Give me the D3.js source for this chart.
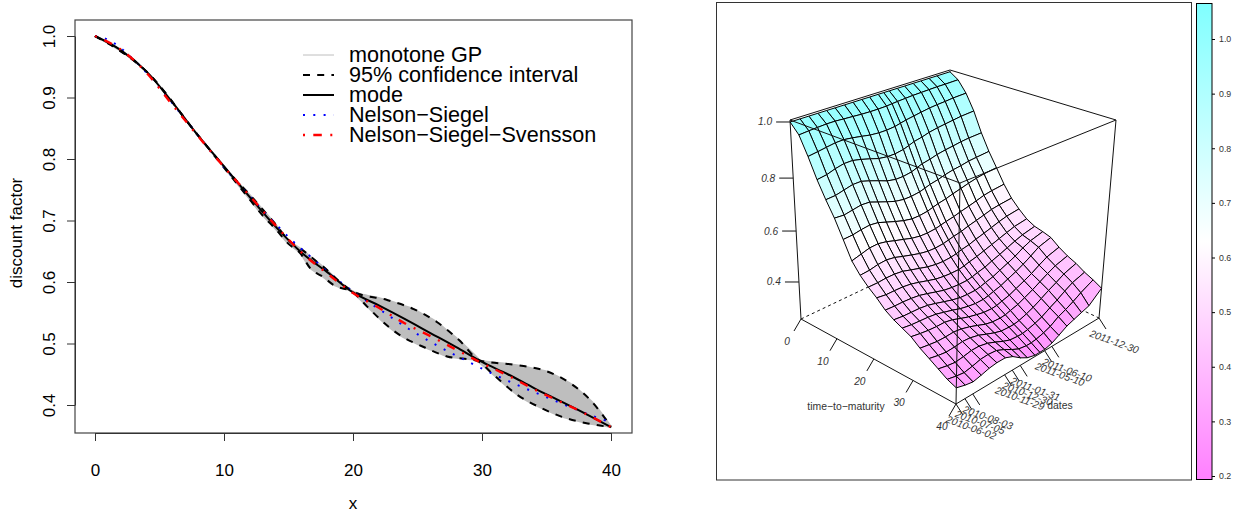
<!DOCTYPE html>
<html>
<head>
<meta charset="utf-8">
<script src="https://cdn.jsdelivr.net/npm/d3@7"></script>
<style>
  html, body { margin: 0; padding: 0; background: #fff; }
  svg { display: block; }
  text { font-family: "Liberation Sans", Arial, sans-serif; }
</style>
</head>
<body>
<svg id="draw" width="1233" height="512"></svg>
<script>
// left panel: discount curves
var modeX = [0, 2, 4, 6, 8, 10, 12, 14, 16, 18, 20, 22, 24, 26, 28, 30, 32, 34, 36, 38, 40];
var modeY = [1.0, 0.977, 0.942, 0.892, 0.838, 0.788, 0.738, 0.69, 0.648, 0.616, 0.583, 0.562, 0.54, 0.517, 0.494, 0.47, 0.45, 0.428, 0.407, 0.386, 0.364];
var upperX = [0, 4, 8, 11, 12, 13, 14, 15, 15.9, 17.2, 17.8, 19, 20, 20.3, 22.6, 24.7, 26.5, 28.2, 29.9, 32.7, 35, 36.8, 38.4, 40];
var upperY = [1.0, 0.942, 0.838, 0.764, 0.742, 0.718, 0.694, 0.668, 0.655, 0.633, 0.623, 0.6, 0.585, 0.582, 0.571, 0.556, 0.535, 0.506, 0.472, 0.465, 0.455, 0.436, 0.408, 0.365];
var lowerX = [0, 4, 8, 11, 12, 13, 14, 15, 15.9, 16.7, 17.7, 18.5, 20, 21.1, 22.6, 23.9, 25.3, 27.3, 29.6, 30.9, 32.7, 34.5, 36.3, 38.2, 40];
var lowerY = [1.0, 0.942, 0.838, 0.76, 0.734, 0.708, 0.686, 0.662, 0.647, 0.622, 0.608, 0.595, 0.583, 0.56, 0.53, 0.51, 0.496, 0.479, 0.472, 0.449, 0.417, 0.396, 0.38, 0.37, 0.364];
var nsX = [0, 0.4, 1.16, 1.86, 2.45, 3.65, 5.2, 6.75, 8.27, 9.8, 11.4, 13, 14.2, 15.3, 16.5, 18.35, 20.3, 22.3, 24.3, 26.4, 28.5, 30.7, 32.9, 35.2, 37.4, 39.7, 40];
var nsY = [1.0, 0.999, 0.992, 0.983, 0.972, 0.948, 0.911, 0.871, 0.831, 0.792, 0.753, 0.716, 0.69, 0.667, 0.645, 0.611, 0.58, 0.552, 0.524, 0.498, 0.475, 0.452, 0.431, 0.411, 0.392, 0.374, 0.372];
var nssY = [1.0, 0.978, 0.94, 0.888, 0.837, 0.787, 0.74, 0.692, 0.648, 0.614, 0.582, 0.558, 0.533, 0.512, 0.49, 0.468, 0.448, 0.426, 0.406, 0.386, 0.364];
var xTicks = [0, 10, 20, 30, 40];
var yTicks = [0.4, 0.5, 0.6, 0.7, 0.8, 0.9, 1.0];
var legendLabels = ["monotone GP", "95% confidence interval", "mode", "Nelson\u2212Siegel", "Nelson\u2212Siegel\u2212Svensson"];

// right panel: surface
var maturities = [0, 2.1, 4.2, 6.3, 8.4, 10.5, 12.6, 14.7, 16.8, 18.9, 21, 23.1, 25.2, 27.3, 29.5, 31.6, 33.7, 35.8, 37.9, 40];
var gridDates = ["2010-06-02", "2010-07-05", "2010-08-03", "2010-09-02", "2010-10-01", "2010-10-29", "2010-11-29", "2010-12-30", "2011-01-31", "2011-02-28", "2011-03-31", "2011-04-20", "2011-05-10", "2011-06-10", "2011-07-08", "2011-08-10", "2011-09-09", "2011-10-10", "2011-11-10", "2011-12-30"];
var surface = [
  [1, 1, 1, 1, 1, 1, 1, 1, 1, 1, 1, 1, 1, 1, 1, 1, 1, 1, 1, 1],
  [.965, .968, .97, .972, .972, .97, .968, .966, .965, .965, .966, .968, .97, .972, .974, .975, .976, .977, .977, .978],
  [.90, .905, .91, .915, .916, .912, .906, .90, .897, .897, .90, .905, .91, .915, .92, .925, .928, .93, .933, .935],
  [.83, .835, .845, .852, .852, .845, .835, .825, .82, .82, .825, .832, .84, .846, .854, .86, .864, .868, .872, .875],
  [.77, .772, .78, .788, .788, .778, .765, .752, .745, .745, .75, .758, .766, .772, .78, .786, .79, .795, .798, .80],
  [.715, .712, .718, .724, .722, .71, .697, .686, .68, .68, .684, .69, .697, .703, .711, .718, .722, .728, .731, .735],
  [.65, .652, .658, .662, .658, .647, .635, .625, .618, .618, .622, .628, .634, .64, .648, .656, .664, .671, .676, .68],
  [.585, .595, .604, .606, .60, .59, .58, .57, .564, .563, .566, .571, .576, .582, .59, .598, .606, .615, .62, .625],
  [.545, .548, .555, .558, .553, .543, .533, .524, .518, .517, .52, .525, .53, .536, .545, .553, .561, .57, .575, .58],
  [.515, .515, .518, .518, .514, .505, .495, .486, .48, .478, .48, .484, .49, .496, .505, .514, .523, .533, .541, .548],
  [.49, .485, .485, .484, .48, .472, .462, .453, .448, .446, .446, .45, .456, .463, .472, .482, .492, .502, .512, .52],
  [.46, .458, .458, .456, .452, .444, .434, .425, .42, .418, .418, .422, .428, .435, .446, .457, .469, .481, .492, .503],
  [.44, .436, .435, .434, .43, .422, .412, .403, .396, .394, .394, .398, .404, .412, .424, .437, .45, .468, .482, .495],
  [.425, .42, .418, .416, .412, .404, .395, .385, .378, .374, .374, .378, .384, .392, .404, .417, .432, .45, .47, .485],
  [.41, .404, .40, .398, .398, .392, .38, .37, .362, .356, .354, .356, .362, .37, .382, .396, .41, .428, .445, .46],
  [.385, .38, .376, .376, .378, .374, .365, .354, .342, .336, .334, .336, .342, .35, .362, .377, .393, .41, .425, .44],
  [.365, .358, .354, .356, .36, .358, .35, .338, .326, .318, .316, .316, .32, .33, .341, .358, .375, .39, .408, .425],
  [.345, .338, .334, .338, .344, .344, .337, .325, .311, .301, .298, .298, .302, .31, .32, .338, .353, .372, .389, .405],
  [.325, .318, .314, .32, .328, .33, .327, .314, .297, .284, .279, .279, .282, .29, .30, .32, .332, .347, .365, .39],
  [.312, .303, .298, .305, .313, .317, .317, .305, .283, .268, .26, .26, .26, .268, .282, .30, .31, .32, .33, .372]
];
var maturityTicks = [0, 10, 20, 30, 40];
var dateTicks = ["2010-06-02", "2010-07-05", "2010-08-03", "2010-11-29", "2010-12-30", "2011-01-31", "2011-05-10", "2011-06-10", "2011-12-30"];
var zTicks = [0.4, 0.6, 0.8, 1.0];
var colorTicks = [0.2, 0.3, 0.4, 0.5, 0.6, 0.7, 0.8, 0.9, 1.0];

var svg = d3.select("#draw");

// ---- left panel
var x = d3.scaleLinear().domain([0, 40]).range([95, 611]);
var y = d3.scaleLinear().domain([0.4, 1.0]).range([405, 36]);
var BOX = {l: 75, r: 632, t: 20, b: 433};

function lineOf(xs, ys) {
  var gen = d3.line().x(function(d) { return x(d[0]); }).y(function(d) { return y(d[1]); }).curve(d3.curveMonotoneX);
  return gen(d3.zip(xs, ys));
}
function valueAt(xs, ys, v) {
  var i = d3.bisectLeft(xs, v);
  if (i === 0) return ys[0];
  if (i >= xs.length) return ys[ys.length - 1];
  var t = (v - xs[i - 1]) / (xs[i] - xs[i - 1]);
  return ys[i - 1] + t * (ys[i] - ys[i - 1]);
}

// grey band of the GP draws
var band = d3.area()
  .x(function(d) { return x(d[0]); })
  .y0(function(d) { return y(d[2]); })
  .y1(function(d) { return y(d[1]); })
  .curve(d3.curveMonotoneX);
var bandXs = Array.from(new Set(upperX.concat(lowerX))).sort(d3.ascending);
var bandRows = bandXs.map(function(v) { return [v, valueAt(upperX, upperY, v), valueAt(lowerX, lowerY, v)]; });
svg.append("path").attr("d", band(bandRows)).attr("fill", "#bebebe").attr("stroke", "#bebebe").attr("stroke-width", 1.6);

// confidence interval
[[upperX, upperY], [lowerX, lowerY]].forEach(function(c) {
  svg.append("path").attr("d", lineOf(c[0], c[1])).attr("fill", "none").attr("stroke", "#000")
    .attr("stroke-width", 2).attr("stroke-dasharray", "7 7.2");
});
svg.append("path").attr("d", lineOf(nsX, nsY)).attr("fill", "none").attr("stroke", "#00f")
  .attr("stroke-width", 2).attr("stroke-dasharray", "2 8.3");
svg.append("path").attr("d", lineOf(modeX, modeY)).attr("fill", "none").attr("stroke", "#000").attr("stroke-width", 2);
svg.append("path").attr("d", lineOf(modeX, nssY)).attr("fill", "none").attr("stroke", "#f00")
  .attr("stroke-width", 2.4).attr("stroke-dasharray", "2 8.3 8.5 8.5");

// box and axes
svg.append("rect").attr("x", BOX.l).attr("y", BOX.t).attr("width", BOX.r - BOX.l).attr("height", BOX.b - BOX.t)
  .attr("fill", "none").attr("stroke", "#444").attr("stroke-width", 1.2);

var xAxis = svg.append("g").attr("transform", "translate(0," + BOX.b + ")")
  .call(d3.axisBottom(x).tickValues(xTicks).tickSize(8).tickSizeOuter(0));
xAxis.selectAll("text").attr("font-size", 17).attr("font-family", "Liberation Sans").attr("fill", "#000")
  .attr("y", 43).attr("dy", 0);
var yAxis = svg.append("g").attr("transform", "translate(" + BOX.l + ",0)")
  .call(d3.axisLeft(y).tickValues(yTicks).tickSize(8).tickSizeOuter(0).tickFormat(d3.format(".1f")));
yAxis.selectAll("text").attr("font-size", 17).attr("font-family", "Liberation Sans").attr("fill", "#000")
  .attr("text-anchor", "middle").attr("transform", "rotate(-90)")
  .attr("x", 0).attr("y", -20).attr("dy", 0);
svg.selectAll(".domain, .tick line").attr("stroke", "#333");

svg.append("text").attr("x", 353).attr("y", 509).attr("text-anchor", "middle").attr("font-size", 17).text("x");
svg.append("text").attr("transform", "translate(21.5,233) rotate(-90)").attr("text-anchor", "middle").attr("font-size", 17).text("discount factor");

// legend
var legY = d3.scalePoint().domain(legendLabels).range([55, 135]);
var legStyle = [
  {c: "#bebebe", w: 1, d: null},
  {c: "#000", w: 2, d: "7 7.2"},
  {c: "#000", w: 2, d: null},
  {c: "#00f", w: 2, d: "2 8.3"},
  {c: "#f00", w: 2.4, d: "2 8.3 8.5 8.5"}
];
var leg = svg.append("g").selectAll("g").data(legendLabels).enter().append("g");
leg.append("line").attr("x1", 303).attr("x2", 334)
  .attr("y1", function(d) { return legY(d); }).attr("y2", function(d) { return legY(d); })
  .attr("stroke", function(d, i) { return legStyle[i].c; })
  .attr("stroke-width", function(d, i) { return legStyle[i].w; })
  .attr("stroke-dasharray", function(d, i) { return legStyle[i].d; });
leg.append("text").attr("x", 349).attr("y", function(d) { return legY(d) + 7; }).attr("font-size", 21.6).text(function(d) { return d; });

// ---- right panel
svg.append("rect").attr("x", 716.5).attr("y", 2.5).attr("width", 475).attr("height", 477.5)
  .attr("fill", "none").attr("stroke", "#333").attr("stroke-width", 1);

var parseD = d3.timeParse("%Y-%m-%d");
var uScale = d3.scaleLinear().domain(maturityTicks).range([0, 0.232, 0.47, 0.723, 1]);
var vScale = d3.scaleTime().domain(["2010-06-02", "2010-11-29", "2011-05-10", "2011-12-30"].map(parseD)).range([0, 0.34, 0.62, 1]);
var wScale = d3.scaleLinear().domain([0.255, 0.4, 0.6, 0.8, 1.0, 1.007]).range([0, 0.186, 0.442, 0.708, 0.99, 1]);

// box corners on the page: [u][v] for bottom and top
var base = [[[801, 319], [950, 248]], [[956, 404], [1099, 318]]];
var roof = [[[790, 120], [950, 70]], [[960, 183], [1116, 120]]];

function bilin(c, u, v) {
  var a = c[0][0], b = c[0][1], e = c[1][0], f = c[1][1];
  return [
    a[0] * (1 - u) * (1 - v) + b[0] * (1 - u) * v + e[0] * u * (1 - v) + f[0] * u * v,
    a[1] * (1 - u) * (1 - v) + b[1] * (1 - u) * v + e[1] * u * (1 - v) + f[1] * u * v
  ];
}
function project(ttm, date, z) {
  var u = uScale(ttm), v = vScale(date), w = wScale(z);
  var p0 = bilin(base, u, v), p1 = bilin(roof, u, v);
  return [p0[0] + (p1[0] - p0[0]) * w, p0[1] + (p1[1] - p0[1]) * w];
}

var colorScale = d3.scaleLinear().domain([0.19, 0.63, 1.07]).range(["#ff80ff", "#ffffff", "#80ffff"]);
var d0 = parseD(gridDates[0]);

function seg(a, b, dash) {
  svg.append("line").attr("x1", a[0]).attr("y1", a[1]).attr("x2", b[0]).attr("y2", b[1])
    .attr("stroke", "#111").attr("stroke-width", 1).attr("stroke-dasharray", dash || null);
}

// back of the box
seg(roof[0][0], roof[0][1]);
seg(roof[0][1], roof[1][1]);
seg(base[0][0], base[0][1], "3 3");
seg(base[0][1], base[1][1], "3 3");
seg(base[0][1], roof[0][1], "3 3");
seg(base[0][0], roof[0][0]);
seg(base[1][1], roof[1][1]);
seg(base[0][0], base[1][0]);
seg(base[1][0], base[1][1]);

// facets back to front
var facets = [];
d3.range(0, maturities.length - 1).forEach(function(i) {
  d3.range(gridDates.length - 2, -1, -1).forEach(function(j) {
    facets.push({i: i, j: j, z: d3.mean([surface[i][j], surface[i + 1][j], surface[i][j + 1], surface[i + 1][j + 1]])});
  });
});
svg.append("g").selectAll("polygon").data(facets).enter().append("polygon")
  .attr("points", function(f) {
    return [[f.i, f.j], [f.i + 1, f.j], [f.i + 1, f.j + 1], [f.i, f.j + 1]].map(function(c) {
      return project(maturities[c[0]], parseD(gridDates[c[1]]), surface[c[0]][c[1]]).join(",");
    }).join(" ");
  })
  .attr("fill", function(f) { return colorScale(f.z); })
  .attr("stroke", "#000").attr("stroke-width", 1).attr("stroke-linejoin", "round");

// front of the box goes over the surface
seg(roof[0][0], roof[1][0]);
seg(roof[1][0], roof[1][1]);
seg(base[1][0], roof[1][0]);

// axis ticks and labels on the box
var tickFont = 10.2;
maturityTicks.forEach(function(t) {
  var p = project(t, d0, 0.255);
  seg(p, [p[0] - 7, p[1] + 12]);
  svg.append("text").attr("x", p[0] - 14).attr("y", p[1] + 26).attr("text-anchor", "middle")
    .attr("font-size", tickFont).attr("font-style", "italic").attr("fill", "#333").text(t);
});
dateTicks.forEach(function(t) {
  var p = project(40, parseD(t), 0.255);
  seg(p, [p[0] + 7, p[1] + 11]);
  svg.append("text").attr("transform", "translate(" + (p[0] + 14) + "," + (p[1] + 27) + ") rotate(20)")
    .attr("text-anchor", "middle").attr("font-size", tickFont).attr("font-style", "italic").attr("fill", "#333").text(t);
});
zTicks.forEach(function(t) {
  var p = project(0, d0, t);
  seg([p[0] - 14, p[1]], p);
  svg.append("text").attr("x", p[0] - 25).attr("y", p[1] + 3.5).attr("text-anchor", "middle")
    .attr("font-size", tickFont).attr("font-style", "italic").attr("fill", "#333").text(d3.format(".1f")(t));
});
svg.append("text").attr("x", 846).attr("y", 410).attr("text-anchor", "middle").attr("font-size", 10.4).attr("fill", "#333").text("time\u2212to\u2212maturity");
svg.append("text").attr("x", 1060).attr("y", 409).attr("text-anchor", "middle").attr("font-size", 10.4).attr("fill", "#333").text("dates");

// colour key
var cbY = d3.scaleLinear().domain([0.2, 1.0]).range([476, 39]);
var grad = svg.append("defs").append("linearGradient").attr("id", "key").attr("x1", 0).attr("x2", 0).attr("y1", 1).attr("y2", 0);
colorScale.domain().forEach(function(v, i) {
  grad.append("stop").attr("offset", i / 2).attr("stop-color", colorScale(v));
});
svg.append("rect").attr("x", 1196.5).attr("y", 3.5).attr("width", 15.5).attr("height", 476)
  .attr("fill", "url(#key)").attr("stroke", "#000").attr("stroke-width", 1);
var cbAxis = svg.append("g").attr("transform", "translate(1212,0)")
  .call(d3.axisRight(cbY).tickValues(colorTicks).tickSize(3).tickSizeOuter(0).tickPadding(4).tickFormat(d3.format(".1f")));
cbAxis.select(".domain").remove();
cbAxis.selectAll("text").attr("font-size", 8.8).attr("font-family", "Liberation Sans").attr("fill", "#333");
</script>
</body>
</html>
